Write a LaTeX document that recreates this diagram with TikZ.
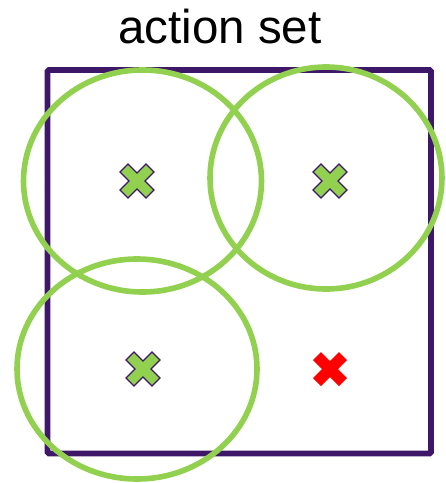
\documentclass[tikz,border=0pt]{standalone}
\usepackage{fontspec}
\setmainfont{Liberation Sans}
\definecolor{frame}{HTML}{3F1768}
\definecolor{lgreen}{HTML}{92D050}
\definecolor{xred}{HTML}{FF0000}
\tikzset{
  areaellipse/.style={draw=lgreen, line width=5.6pt},
  framebox/.style={draw=frame, line width=5.8pt, rounded corners=1.5pt},
  pics/saltire/.style={code={
    \path[pic actions] (0,8) -- (9,17) -- (17,9) -- (8,0) -- (17,-9) -- (9,-17) -- (0,-8)
      -- (-9,-17) -- (-17,-9) -- (-8,0) -- (-17,9) -- (-9,17) -- cycle;
  }},
  goodx/.style={fill=lgreen, draw=frame, line width=1.2pt},
  badx/.style={fill=xred, draw=none},
}
\begin{document}
\begin{tikzpicture}[x=1pt,y=-1pt]
\useasboundingbox (0,0) rectangle (446,483);
\node[anchor=base, font=\fontsize{47.5}{50}\selectfont, inner sep=0pt] (title) at (220,43) {action set};
\coordinate (nw) at (47.5,70);
\coordinate (se) at (431,453.5);
\draw[framebox] (nw) rectangle (se);
\coordinate (c1) at (142.5,181);
\coordinate (c2) at (326,178);
\coordinate (c3) at (137,369);
\draw[areaellipse] (c1) ellipse [x radius=119, y radius=111];
\draw[areaellipse] (c2) ellipse [x radius=116, y radius=111];
\draw[areaellipse] (c3) ellipse [x radius=120, y radius=110];
\coordinate (p1) at (137,181);
\coordinate (p2) at (330,181);
\coordinate (p3) at (143,369);
\coordinate (p4) at (330,369);
\pic[goodx] at (p1) {saltire};
\pic[goodx] at (p2) {saltire};
\pic[goodx] at (p3) {saltire};
\pic[badx] at (p4) {saltire};
\end{tikzpicture}
\end{document}
